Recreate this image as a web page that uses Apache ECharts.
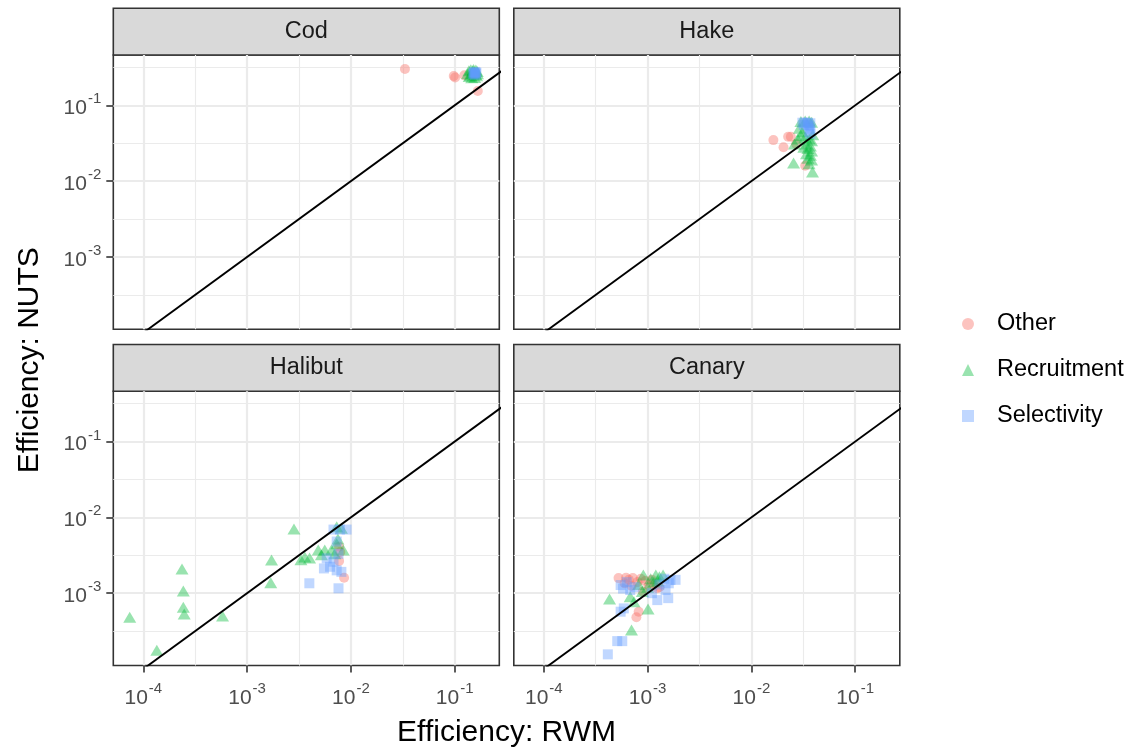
<!DOCTYPE html>
<html>
<head>
<meta charset="utf-8">
<script src="https://cdn.jsdelivr.net/npm/echarts@6/dist/echarts.min.js"></script>
<style>
  html, body { margin: 0; padding: 0; background: #ffffff; }
  #chart { width: 1132px; height: 751px; }
</style>
</head>
<body>
<div id="chart"></div>
<script>
// Facet panels and point groups
const panels = ['Cod', 'Hake', 'Halibut', 'Canary'];
const groups = ['Other', 'Recruitment', 'Selectivity'];

// Decade exponents for labelled ticks and half-decade minor grid
const majorTicks = [-4, -3, -2, -1];
const minorTicks = [-4.5, -3.5, -2.5, -1.5, -0.5];

// Reference line y = x (RWM efficiency equals NUTS efficiency)
const identity = [1e-5, 1];

// Efficiency pairs [RWM, NUTS]
const codOther = [[0.0332, 0.301], [0.098, 0.244], [0.101, 0.233], [0.124, 0.249], [0.167, 0.155]];
const codRecruit = [[0.133, 0.262], [0.137, 0.285], [0.143, 0.295], [0.152, 0.298], [0.160, 0.293], [0.165, 0.280],
  [0.166, 0.262], [0.163, 0.245], [0.156, 0.233], [0.146, 0.231], [0.138, 0.240], [0.148, 0.265],
  [0.155, 0.272], [0.158, 0.255], [0.142, 0.250], [0.150, 0.285]];
const codSelect = [[0.151, 0.258], [0.155, 0.268], [0.160, 0.262], [0.157, 0.252], [0.153, 0.272], [0.162, 0.270], [0.158, 0.276]];

const hakeOther = [[0.0163, 0.0348], [0.0226, 0.0385], [0.0240, 0.0385], [0.0204, 0.0280], [0.0330, 0.0160], [0.0270, 0.0310]];
const hakeRecruit = [[0.030, 0.061], [0.033, 0.062], [0.036, 0.062], [0.038, 0.060], [0.029, 0.050], [0.031, 0.045],
  [0.030, 0.040], [0.028, 0.036], [0.033, 0.038], [0.036, 0.036], [0.038, 0.034], [0.034, 0.031],
  [0.037, 0.029], [0.035, 0.027], [0.038, 0.025], [0.034, 0.023], [0.037, 0.022], [0.035, 0.020],
  [0.038, 0.019], [0.036, 0.017], [0.0255, 0.0173], [0.0388, 0.0132], [0.032, 0.028], [0.026, 0.031], [0.039, 0.041]];
const hakeSelect = [[0.031, 0.059], [0.033, 0.059], [0.035, 0.059], [0.037, 0.058], [0.032, 0.055], [0.036, 0.053],
  [0.037, 0.049], [0.036, 0.045], [0.037, 0.042], [0.035, 0.056]];

const halibutOther = [[0.0086, 0.0016], [0.0077, 0.0041], [0.0077, 0.00265], [0.0079, 0.0035]];
const halibutRecruit = [[7.4e-5, 4.8e-4], [1.35e-4, 1.77e-4], [2.36e-4, 2.08e-3], [2.43e-4, 1.07e-3], [2.43e-4, 6.5e-4],
  [2.48e-4, 5.3e-4], [5.8e-4, 5.0e-4], [1.69e-3, 1.37e-3], [1.72e-3, 2.73e-3], [2.83e-3, 7.0e-3],
  [3.3e-3, 2.75e-3], [3.6e-3, 3.0e-3], [4.0e-3, 2.9e-3], [4.85e-3, 3.7e-3], [5.6e-3, 3.7e-3],
  [6.5e-3, 3.7e-3], [7.3e-3, 7.5e-3], [8.1e-3, 7.2e-3], [8.45e-3, 3.7e-3], [7.3e-3, 4.5e-3],
  [7.5e-3, 5.2e-3], [7.0e-3, 3.3e-3], [5.2e-3, 3.2e-3]];
const halibutSelect = [[3.98e-3, 1.35e-3], [7.6e-3, 1.16e-3], [5.5e-3, 2.12e-3], [6.3e-3, 2.23e-3], [6.8e-3, 2.6e-3],
  [8.1e-3, 1.91e-3], [5.85e-3, 2.88e-3], [7.3e-3, 4.8e-3], [6.8e-3, 6.9e-3], [7.85e-3, 6.9e-3],
  [9.1e-3, 6.9e-3], [7.3e-3, 2.0e-3], [7.6e-3, 3.3e-3]];

const canaryOther = [[5.25e-4, 1.58e-3], [6.2e-4, 1.6e-3], [7.2e-4, 1.58e-3], [8.6e-4, 1.55e-3], [9.5e-4, 1.45e-3],
  [6.0e-4, 1.35e-3], [7.0e-4, 1.25e-3], [7.8e-4, 4.8e-4], [8.2e-4, 5.7e-4], [1.24e-3, 1.16e-3],
  [1.02e-3, 1.28e-3], [9.0e-4, 1.05e-3], [1.1e-3, 1.5e-3], [8.0e-4, 1.4e-3], [6.6e-4, 1.5e-3],
  [1.15e-3, 1.3e-3], [1.3e-3, 1.2e-3]];
const canaryRecruit = [[7.0e-4, 3.26e-4], [1.01e-3, 6.2e-4], [4.3e-4, 8.4e-4], [6.8e-4, 9.0e-4], [7.4e-4, 7.7e-4],
  [8.9e-4, 1.05e-3], [9.1e-4, 1.73e-3], [1.07e-3, 1.55e-3], [1.2e-3, 1.73e-3], [1.41e-3, 1.73e-3],
  [1.3e-3, 1.65e-3], [1.0e-3, 1.2e-3], [1.15e-3, 1.4e-3], [8.2e-4, 1.3e-3], [1.25e-3, 1.45e-3]];
const canarySelect = [[4.14e-4, 1.56e-4], [5.1e-4, 2.33e-4], [5.7e-4, 2.33e-4], [5.5e-4, 5.7e-4], [5.9e-4, 6.3e-4],
  [1.24e-3, 8.1e-4], [1.66e-3, 1.49e-3], [1.86e-3, 1.5e-3], [1.49e-3, 1.1e-3], [1.58e-3, 8.6e-4],
  [5.5e-4, 1.28e-3], [6.8e-4, 1.1e-3], [5.8e-4, 1.15e-3], [1.45e-3, 1.55e-3], [1.3e-3, 1.3e-3],
  [1.1e-3, 1.0e-3], [6.3e-4, 1.4e-3], [7.5e-4, 1.2e-3], [1.6e-3, 1.35e-3]];

const panelData = {
  Cod: [codOther, codRecruit, codSelect],
  Hake: [hakeOther, hakeRecruit, hakeSelect],
  Halibut: [halibutOther, halibutRecruit, halibutSelect],
  Canary: [canaryOther, canaryRecruit, canarySelect]
};

// Shared log10 ranges of both axes
const xRange = [-4.289, -0.570];
const yRange = [-3.954, -0.336];

// Layout
const FONT = '"Liberation Sans", Arial, Helvetica, sans-serif';
const colLeft = [113.3, 513.8];
const rowTop = [55, 391.2];
const panelW = 386;
const panelH = 274.3;
const stripH = 46.7;

const colors = ['rgba(248,118,109,0.55)', 'rgba(0,186,56,0.5)', 'rgba(97,156,255,0.5)'];
const symbols = ['circle', 'triangle', 'rect'];
const sizes = [10, [13, 11], 10];

const lg = v => Math.log10(v);
// "10" with the exponent raised as a superscript
const decadeLabel = v => '{b|10}{s|' + Math.round(v) + '}';
const richLabel = {
  b: { fontSize: 21, lineHeight: 21, verticalAlign: 'bottom', color: '#4D4D4D', fontFamily: FONT },
  s: { fontSize: 15, lineHeight: 27, verticalAlign: 'top', padding: [0, 0, 12, 1], color: '#4D4D4D', fontFamily: FONT }
};

const inRange = (vals, r) => vals.filter(v => v > r[0] && v < r[1]);

const grids = [], xAxes = [], yAxes = [], series = [], graphics = [];

panels.forEach((name, i) => {
  const col = i % 2, row = Math.floor(i / 2);
  const left = colLeft[col], top = rowTop[row];

  grids.push({
    left: left, top: top, width: panelW, height: panelH,
    show: true, borderColor: '#333333', borderWidth: 1.6, backgroundColor: '#ffffff',
    containLabel: false, outerBoundsMode: 'none'
  });

  const showX = row === 1, showY = col === 0;

  // major axes with decade ticks
  xAxes.push({
    gridIndex: i, type: 'value', position: 'bottom', min: xRange[0], max: xRange[1],
    axisLine: { show: false },
    axisTick: { show: showX, length: 7, customValues: inRange(majorTicks, xRange), lineStyle: { color: '#333333', width: 1.6 } },
    axisLabel: { show: showX, customValues: inRange(majorTicks, xRange), formatter: decadeLabel, margin: 16, rich: richLabel },
    splitLine: { show: true, lineStyle: { color: '#EBEBEB', width: 2.2 } }
  });
  yAxes.push({
    gridIndex: i, type: 'value', position: 'left', min: yRange[0], max: yRange[1],
    axisLine: { show: false },
    axisTick: { show: showY, length: 7, customValues: inRange(majorTicks, yRange), lineStyle: { color: '#333333', width: 1.6 } },
    axisLabel: { show: showY, customValues: inRange(majorTicks, yRange), formatter: decadeLabel, margin: 12, align: 'right', rich: richLabel },
    splitLine: { show: true, lineStyle: { color: '#EBEBEB', width: 2.2 } }
  });
  // minor axes carrying only half-decade grid lines
  xAxes.push({
    gridIndex: i, type: 'value', position: 'top', min: xRange[0], max: xRange[1],
    axisLine: { show: false },
    axisTick: { show: false, customValues: inRange(minorTicks, xRange) },
    axisLabel: { show: false },
    splitLine: { show: true, lineStyle: { color: '#EBEBEB', width: 1.1 } }
  });
  yAxes.push({
    gridIndex: i, type: 'value', position: 'right', min: yRange[0], max: yRange[1],
    axisLine: { show: false },
    axisTick: { show: false, customValues: inRange(minorTicks, yRange) },
    axisLabel: { show: false },
    splitLine: { show: true, lineStyle: { color: '#EBEBEB', width: 1.1 } }
  });

  panelData[name].forEach((pts, j) => {
    series.push({
      type: 'scatter', name: groups[j],
      xAxisIndex: 2 * i, yAxisIndex: 2 * i,
      data: pts.map(p => [lg(p[0]), lg(p[1])]),
      symbol: symbols[j], symbolSize: sizes[j],
      itemStyle: { color: colors[j] },
      z: 2, silent: true
    });
  });

  series.push({
    type: 'line', xAxisIndex: 2 * i, yAxisIndex: 2 * i,
    data: identity.map(v => [lg(v), lg(v)]),
    symbol: 'none', showSymbol: false, clip: true,
    lineStyle: { color: '#000000', width: 1.9 },
    z: 3, silent: true
  });

  // facet strip
  graphics.push({
    type: 'rect',
    shape: { x: left, y: top - stripH, width: panelW, height: stripH },
    style: { fill: '#D9D9D9', stroke: '#333333', lineWidth: 1.6 }
  });
  graphics.push({
    type: 'text', x: left + panelW / 2, y: top - stripH / 2,
    style: {
      text: name, font: '23.5px ' + FONT, fill: '#1A1A1A',
      align: 'center', verticalAlign: 'middle', textAlign: 'center', textVerticalAlign: 'middle'
    }
  });
});

// axis titles
graphics.push({
  type: 'text', x: (colLeft[0] + colLeft[1] + panelW) / 2, y: 733,
  style: {
    text: 'Efficiency: RWM', font: '30px ' + FONT, fill: '#000000',
    align: 'center', verticalAlign: 'middle', textAlign: 'center', textVerticalAlign: 'middle'
  }
});
graphics.push({
  type: 'text', x: 30, y: (rowTop[0] + rowTop[1] + panelH) / 2, rotation: Math.PI / 2,
  style: {
    text: 'Efficiency: NUTS', font: '30px ' + FONT, fill: '#000000',
    align: 'center', verticalAlign: 'middle', textAlign: 'center', textVerticalAlign: 'middle'
  }
});

const chart = echarts.init(document.getElementById('chart'), null, { renderer: 'canvas' });
chart.setOption({
  backgroundColor: '#ffffff',
  animation: false,
  textStyle: { fontFamily: FONT },
  grid: grids,
  xAxis: xAxes,
  yAxis: yAxes,
  series: series,
  legend: {
    data: groups.map(n => ({ name: n })),
    orient: 'vertical', left: 957, top: 307,
    itemWidth: 12, itemHeight: 12, itemGap: 22,
    selectedMode: false,
    textStyle: { fontSize: 23.5, color: '#000000', fontFamily: FONT, padding: [0, 0, 0, 18] }
  },
  graphic: graphics
});
</script>
</body>
</html>
